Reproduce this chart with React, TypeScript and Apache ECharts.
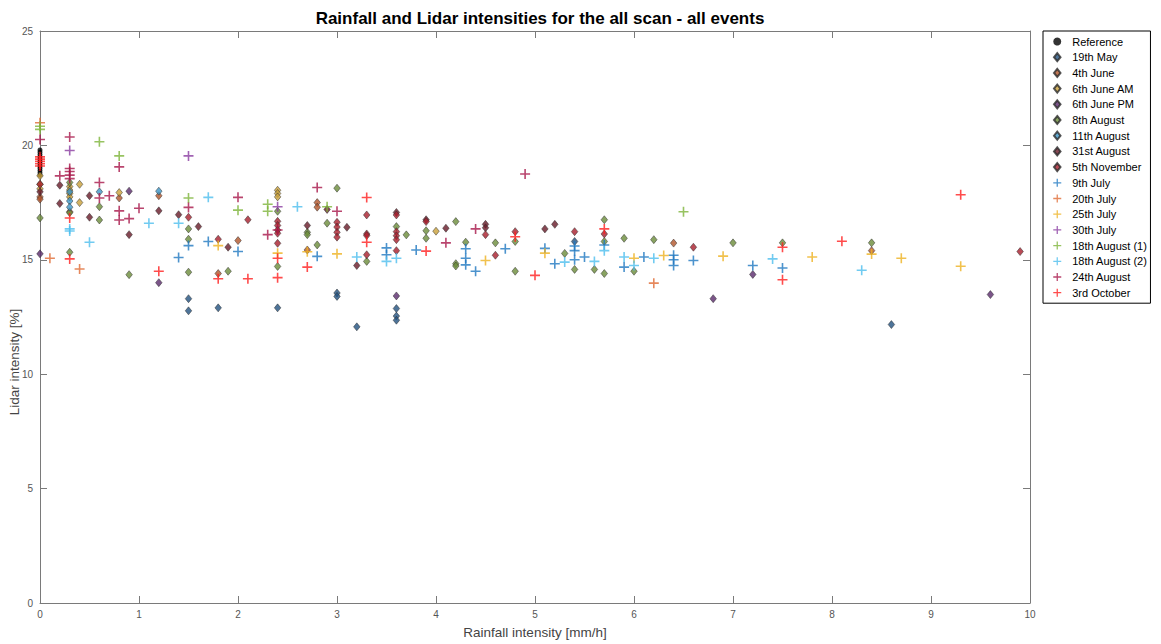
import React, { useEffect, useRef } from "react";
import * as echarts from "echarts";

// Axis ranges (tick labels run 0..10 step 1 and 0..25 step 5)
const X_MIN = 0;
const X_MAX = 10;
const X_STEP = 1;
const Y_MIN = 0;
const Y_MAX = 25;
const Y_STEP = 5;

const TITLE = "Rainfall and Lidar intensities for the all scan - all events";
const X_NAME = "Rainfall intensity [mm/h]";
const Y_NAME = "Lidar intensity [%]";

// [rainfall intensity mm/h, lidar intensity %]
const reference: number[][] = [
  [0, 19.8], [0, 19.7], [0, 19.6], [0, 19.5], [0, 19.4], [0, 19.3], [0, 19.2],
  [0, 19.1], [0, 19.0], [0, 18.9], [0, 18.8], [0, 18.7],
];
const may19: number[][] = [
  [1.5, 13.3], [1.5, 12.77], [1.8, 12.9], [2.4, 12.9], [3.0, 13.55], [3.0, 13.4],
  [3.2, 12.07], [3.6, 12.87], [3.6, 12.54], [3.6, 12.36], [5.4, 15.8], [8.6, 12.17],
];
const june4: number[][] = [
  [0, 17.75], [0, 17.65], [0.3, 17.1], [0.8, 17.7], [1.2, 17.8], [1.8, 14.4],
  [2.0, 15.84], [2.7, 15.43], [2.8, 17.5], [2.8, 17.3], [6.4, 15.73], [8.4, 15.4],
];
const june6Am: number[][] = [
  [0, 18.67], [0, 18.3], [0, 18.1], [0.3, 18.2], [0.3, 18.05], [0.3, 17.9],
  [0.3, 17.75], [0.4, 18.3], [0.4, 17.5], [0.8, 17.94], [2.4, 18.04], [2.4, 17.9],
  [2.4, 17.75], [4.0, 16.25],
];
const june6Pm: number[][] = [
  [0, 15.26], [0.9, 18.0], [1.2, 14.0], [3.6, 13.42], [6.8, 13.3], [7.2, 14.36], [9.6, 13.48],
];
const august8: number[][] = [
  [0, 16.83], [0.3, 18.38], [0.3, 17.06], [0.3, 15.33], [0.6, 17.32], [0.6, 16.74],
  [0.9, 14.35], [1.5, 16.35], [1.5, 15.9], [1.5, 14.46], [1.9, 14.5], [2.4, 17.12],
  [2.4, 14.71], [2.7, 16.2], [2.7, 16.1], [2.8, 15.65], [2.9, 16.6], [3.0, 18.13],
  [3.3, 14.93], [3.6, 16.45], [3.7, 16.09], [3.9, 16.27], [3.9, 15.94], [4.2, 16.67],
  [4.2, 14.83], [4.2, 14.73], [4.3, 15.77], [4.6, 15.74], [4.8, 15.8], [4.8, 14.5],
  [5.3, 15.28], [5.4, 14.58], [5.6, 14.58], [5.7, 16.75], [5.7, 15.8], [5.7, 14.4],
  [5.9, 15.94], [6.0, 14.5], [6.2, 15.88], [7.0, 15.74], [7.5, 15.74], [8.4, 15.74],
];
const august11: number[][] = [
  [0.3, 17.97], [0.3, 17.57], [0.3, 17.3], [0.6, 17.97], [1.2, 18.0],
];
const august31: number[][] = [
  [0, 17.97], [0.2, 18.26], [0.2, 17.46], [0.5, 17.8], [0.5, 16.86], [0.9, 16.1],
  [1.2, 17.14], [1.4, 16.97], [1.6, 16.45], [1.9, 15.55], [2.7, 16.5], [2.9, 17.2],
  [3.1, 16.42], [3.2, 14.75], [3.6, 17.07], [3.9, 16.75], [4.1, 16.38], [4.5, 16.55],
  [4.5, 16.4], [5.1, 16.35], [5.2, 16.55],
];
const november5: number[][] = [
  [0, 18.3], [1.5, 16.86], [1.8, 15.9], [2.1, 16.75], [2.4, 16.68], [2.4, 16.5],
  [2.4, 16.3], [2.4, 16.16], [2.4, 15.72], [3.0, 16.64], [3.0, 16.43], [3.0, 16.2],
  [3.0, 15.99], [3.3, 16.96], [3.3, 16.13], [3.3, 16.06], [3.3, 15.22], [3.6, 16.96],
  [3.6, 16.23], [3.6, 16.05], [3.6, 15.88], [3.6, 15.4], [3.9, 16.67], [4.5, 16.1],
  [4.6, 15.2], [4.8, 16.23], [5.4, 16.23], [5.7, 16.13], [6.6, 15.55], [9.9, 15.36],
];
const july9: number[][] = [
  [1.4, 15.1], [1.5, 15.62], [1.7, 15.8], [2.0, 15.36], [2.8, 15.15], [3.5, 15.52],
  [3.5, 15.22], [3.8, 15.43], [4.3, 15.48], [4.3, 15.07], [4.3, 14.78], [4.4, 14.5],
  [4.7, 15.48], [5.1, 15.5], [5.2, 14.83], [5.4, 15.6], [5.4, 15.4], [5.4, 15.0],
  [5.5, 15.12], [5.7, 15.65], [5.9, 14.68], [6.1, 15.12], [6.4, 15.2], [6.4, 15.0],
  [6.4, 14.75], [6.6, 14.97], [7.2, 14.75], [7.5, 14.64],
];
const july20: number[][] = [[0, 20.99], [0.1, 15.07], [0.4, 14.6], [6.2, 13.98]];
const july25: number[][] = [
  [1.8, 15.62], [2.4, 15.29], [2.7, 15.35], [3.0, 15.26], [4.5, 14.97], [5.1, 15.29],
  [6.0, 15.07], [6.3, 15.19], [6.9, 15.16], [7.8, 15.12], [8.4, 15.25], [8.7, 15.07],
  [9.3, 14.72],
];
const july30: number[][] = [[0.3, 19.78], [1.5, 19.54], [2.4, 17.32]];
const august18a: number[][] = [
  [0, 20.84], [0, 20.7], [0.6, 20.16], [0.8, 19.54], [1.5, 17.7], [2.0, 17.17],
  [2.3, 17.43], [2.3, 17.12], [2.9, 17.32], [6.5, 17.1],
];
const august18b: number[][] = [
  [0.3, 16.35], [0.3, 16.26], [0.5, 15.77], [1.1, 16.6], [1.4, 16.6], [1.7, 17.73],
  [2.6, 17.32], [3.2, 15.12], [3.5, 14.93], [3.6, 15.07], [5.3, 14.9], [5.6, 14.93],
  [5.7, 15.4], [5.9, 15.12], [6.0, 14.75], [6.2, 15.07], [7.4, 15.04], [8.3, 14.54],
];
const august24: number[][] = [
  [0, 20.26], [0.2, 18.67], [0.3, 20.37], [0.3, 18.99], [0.3, 18.86], [0.3, 18.7],
  [0.3, 18.55], [0.6, 18.38], [0.6, 17.7], [0.7, 17.8], [0.8, 19.06], [0.8, 17.14],
  [0.8, 16.74], [0.9, 16.8], [1.0, 17.25], [1.5, 17.29], [2.0, 17.73], [2.3, 16.1],
  [2.4, 16.3], [2.8, 18.16], [3.0, 17.12], [4.1, 15.74], [4.4, 16.35], [4.9, 18.75],
];
const october3: number[][] = [
  [0, 19.5], [0, 19.4], [0, 19.3], [0, 19.2], [0, 19.1], [0.3, 16.83], [0.3, 15.04],
  [1.2, 14.5], [1.8, 14.17], [2.1, 14.17], [2.4, 15.07], [2.4, 14.22], [2.7, 14.68],
  [3.3, 17.72], [3.3, 15.77], [3.9, 15.38], [4.8, 16.01], [5.0, 14.32], [5.7, 16.35],
  [7.5, 15.55], [7.5, 14.13], [8.1, 15.81], [9.3, 17.84],
];

// Marker outlines as paths so the legend keeps their proportions
const PLUS = "path://M4.2,0H5.8V4.2H10V5.8H5.8V10H4.2V5.8H0V4.2H4.2Z";
const DIAMOND = "path://M3.25,0L6.5,4L3.25,8L0,4Z";

type Kind = "dot" | "diamond" | "plus";
const seriesDefs: { name: string; data: number[][]; color: string; kind: Kind }[] = [
  { name: "Reference", data: reference, color: "#000000", kind: "dot" },
  { name: "19th May", data: may19, color: "#22517f", kind: "diamond" },
  { name: "4th June", data: june4, color: "#b0552b", kind: "diamond" },
  { name: "6th June AM", data: june6Am, color: "#c9a03a", kind: "diamond" },
  { name: "6th June PM", data: june6Pm, color: "#5a2a6c", kind: "diamond" },
  { name: "8th August", data: august8, color: "#6b8c3a", kind: "diamond" },
  { name: "11th August", data: august11, color: "#3d95c6", kind: "diamond" },
  { name: "31st August", data: august31, color: "#681a28", kind: "diamond" },
  { name: "5th November", data: november5, color: "#a81e2c", kind: "diamond" },
  { name: "9th July", data: july9, color: "#1f78c1", kind: "plus" },
  { name: "20th July", data: july20, color: "#e06b35", kind: "plus" },
  { name: "25th July", data: july25, color: "#edb120", kind: "plus" },
  { name: "30th July", data: july30, color: "#8a3ca0", kind: "plus" },
  { name: "18th August (1)", data: august18a, color: "#7db43a", kind: "plus" },
  { name: "18th August (2)", data: august18b, color: "#4dbeee", kind: "plus" },
  { name: "24th August", data: august24, color: "#a8174a", kind: "plus" },
  { name: "3rd October", data: october3, color: "#ff1f1f", kind: "plus" },
];

const AXIS_GREY = "#7a7a7a";
const LABEL_GREY = "#555555";
const NARROW = "'Liberation Sans Narrow', 'Liberation Sans', Arial, sans-serif";
const SANS = "'Liberation Sans', Arial, sans-serif";

export default function App() {
  const ref = useRef<HTMLDivElement>(null);

  useEffect(() => {
    if (!ref.current) return;
    const chart = echarts.init(ref.current, undefined, { renderer: "svg" });

    const axisCommon = {
      type: "value" as const,
      axisLine: { show: true, onZero: false, lineStyle: { color: AXIS_GREY, width: 1 } },
      axisTick: { show: true, inside: true, length: 7, lineStyle: { color: AXIS_GREY } },
      splitLine: { show: false },
    };

    const series = seriesDefs.map((d) => {
      const base: any = {
        name: d.name,
        type: "scatter",
        data: d.data,
        xAxisIndex: 0,
        yAxisIndex: 0,
      };
      if (d.kind === "dot") {
        base.symbol = "circle";
        base.symbolSize = 5;
        base.itemStyle = { color: d.color };
      } else if (d.kind === "diamond") {
        base.symbol = DIAMOND;
        base.symbolSize = [6.5, 8];
        base.itemStyle = { color: d.color, borderColor: "#2a2a2a", borderWidth: 0.6 };
      } else {
        base.symbol = PLUS;
        base.symbolSize = 10;
        base.itemStyle = { color: d.color };
      }
      return base;
    });

    chart.setOption({
      animation: false,
      backgroundColor: "#ffffff",
      title: {
        text: TITLE,
        left: 535,
        top: 5,
        textAlign: "center",
        textStyle: { fontSize: 17, fontWeight: "bold", color: "#000", fontFamily: SANS },
      },
      grid: { left: 40, right: 131, top: 31, bottom: 38 },
      legend: {
        orient: "vertical",
        left: 1043,
        top: 31,
        padding: [5, 3, 5, 10],
        itemWidth: 20,
        itemHeight: 8,
        itemGap: 4.7,
        symbolKeepAspect: true,
        borderColor: "#000",
        borderWidth: 1,
        borderRadius: 0,
        backgroundColor: "#fff",
        textStyle: { fontSize: 11, color: "#000", fontFamily: SANS, lineHeight: 11 },
        data: seriesDefs.map((d) => d.name),
      },
      xAxis: [
        {
          ...axisCommon,
          position: "bottom",
          min: X_MIN,
          max: X_MAX,
          interval: X_STEP,
          axisLabel: { color: LABEL_GREY, fontSize: 10, margin: 6, fontFamily: NARROW },
          name: X_NAME,
          nameLocation: "middle",
          nameGap: 22,
          nameTextStyle: { fontSize: 13.5, color: "#444", fontFamily: NARROW },
        },
        {
          ...axisCommon,
          position: "top",
          min: X_MIN,
          max: X_MAX,
          interval: X_STEP,
          axisLabel: { show: false },
        },
      ],
      yAxis: [
        {
          ...axisCommon,
          position: "left",
          min: Y_MIN,
          max: Y_MAX,
          interval: Y_STEP,
          axisLabel: { color: LABEL_GREY, fontSize: 10, margin: 7, fontFamily: NARROW },
        },
        {
          ...axisCommon,
          position: "right",
          min: Y_MIN,
          max: Y_MAX,
          interval: Y_STEP,
          axisLabel: { show: false },
        },
      ],
      graphic: [
        {
          type: "text",
          x: 14,
          y: 362,
          rotation: Math.PI / 2,
          style: {
            text: Y_NAME,
            fontSize: 13.5,
            fill: "#444",
            fontFamily: NARROW,
            align: "center",
            verticalAlign: "middle",
          },
        },
      ],
      series,
    });

    return () => chart.dispose();
  }, []);

  return (
    <div
      ref={ref}
      style={{ position: "fixed", left: 0, top: 0, width: 1161, height: 644, background: "#fff" }}
    />
  );
}
